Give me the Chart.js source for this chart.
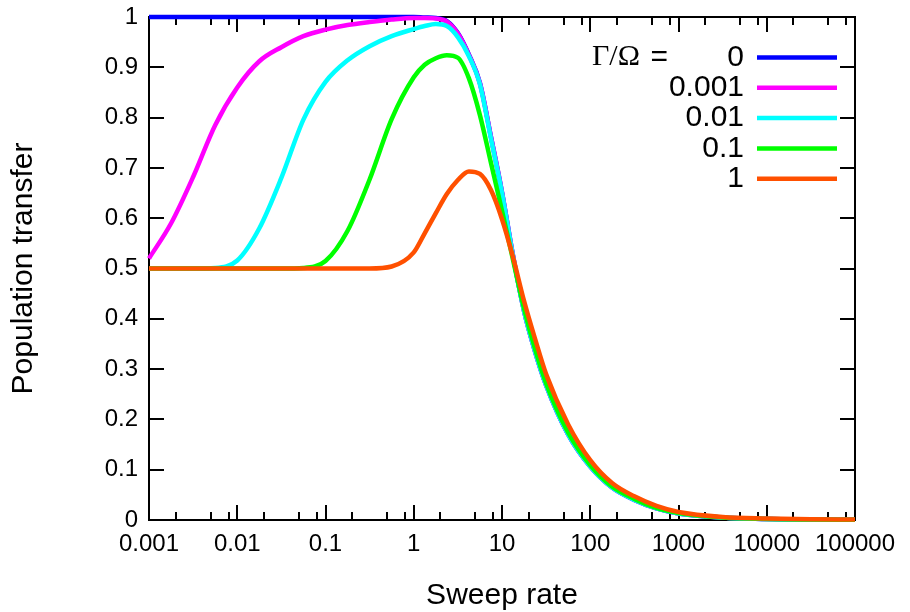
<!DOCTYPE html>
<html>
<head>
<meta charset="utf-8">
<script src="https://cdn.jsdelivr.net/npm/chart.js@4.4.1/dist/chart.umd.min.js"></script>
<style>
html, body { margin: 0; padding: 0; background: #fff; }
#wrap { width: 910px; height: 612px; }
</style>
</head>
<body>
<div id="wrap"><canvas id="c"></canvas></div>
<script>
// sweep rates sampled on the log axis
const sweepRate = [0.001, 0.00178, 0.00316, 0.00562, 0.01, 0.0178, 0.0316, 0.0562, 0.1, 0.178, 0.316, 0.562,
  1, 1.33, 1.78, 2.37, 3.16, 4.22, 5.62, 7.5, 10, 13.3, 17.8, 23.7, 31.6, 56.2, 100, 178, 316, 562,
  1000, 3162, 10000, 31623, 100000];

// population transfer for each Gamma/Omega
const gammaLabels = ['0', '0.001', '0.01', '0.1', '1'];
const transfer0 = [1, 1, 1, 1, 1, 1, 1, 1, 1, 1, 1, 1, 1, 0.999, 0.998, 0.992, 0.968, 0.925, 0.869, 0.762, 0.652,
  0.527, 0.415, 0.335, 0.268, 0.17, 0.106, 0.064, 0.04, 0.023, 0.013, 0.005, 0.002, 0.001, 0.0005];
const transfer0001 = [0.52, 0.59, 0.682, 0.785, 0.86, 0.912, 0.94, 0.962, 0.975, 0.984, 0.99, 0.995, 0.998, 0.998,
  0.997, 0.991, 0.967, 0.924, 0.868, 0.761, 0.651, 0.526, 0.415, 0.335, 0.268, 0.17, 0.106, 0.064, 0.04, 0.023,
  0.013, 0.005, 0.002, 0.001, 0.0005];
const transfer001 = [0.5, 0.5, 0.5, 0.501, 0.516, 0.58, 0.68, 0.796, 0.871, 0.914, 0.942, 0.962, 0.976, 0.982,
  0.986, 0.982, 0.96, 0.922, 0.866, 0.758, 0.65, 0.525, 0.415, 0.335, 0.268, 0.17, 0.106, 0.064, 0.04, 0.023,
  0.013, 0.005, 0.002, 0.001, 0.0005];
const transfer01 = [0.5, 0.5, 0.5, 0.5, 0.5, 0.5, 0.5, 0.501, 0.515, 0.575, 0.677, 0.797, 0.88, 0.905, 0.918,
  0.924, 0.919, 0.878, 0.805, 0.71, 0.615, 0.518, 0.42, 0.34, 0.272, 0.174, 0.109, 0.066, 0.042, 0.024, 0.014,
  0.005, 0.002, 0.001, 0.0005];
const transfer1 = [0.5, 0.5, 0.5, 0.5, 0.5, 0.5, 0.5, 0.5, 0.5, 0.5, 0.5, 0.504, 0.532, 0.57, 0.61, 0.648, 0.676,
  0.693, 0.688, 0.656, 0.598, 0.523, 0.435, 0.36, 0.29, 0.19, 0.119, 0.073, 0.047, 0.028, 0.016, 0.006, 0.003,
  0.0015, 0.001];

const xTickValues = [0.001, 0.01, 0.1, 1, 10, 100, 1000, 10000, 100000];
const xTickLabels = ['0.001', '0.01', '0.1', '1', '10', '100', '1000', '10000', '100000'];

const allSeries = [transfer0, transfer0001, transfer001, transfer01, transfer1];
const colors = ['#0000ff', '#ff00ff', '#00ffff', '#00ff00', '#ff5000'];

Chart.defaults.font.family = '"Liberation Sans", Arial, sans-serif';
Chart.defaults.color = '#000';

// box around the plot with inward ticks, like gnuplot
const framePlugin = {
  id: 'frame',
  beforeDatasetsDraw(chart) {
    const { ctx, chartArea: a, scales: { x, y } } = chart;
    ctx.save();
    ctx.strokeStyle = '#000';
    ctx.lineWidth = 2;
    ctx.strokeRect(a.left, a.top, a.right - a.left, a.bottom - a.top);
    ctx.beginPath();
    y.ticks.forEach(t => {
      const py = Math.round(y.getPixelForValue(t.value));
      ctx.moveTo(a.left, py); ctx.lineTo(a.left + 15, py);
      ctx.moveTo(a.right, py); ctx.lineTo(a.right - 15, py);
    });
    xTickValues.forEach((v, i) => {
      const px = Math.round(x.getPixelForValue(v));
      ctx.moveTo(px, a.bottom); ctx.lineTo(px, a.bottom - 15);
      ctx.moveTo(px, a.top); ctx.lineTo(px, a.top + 15);
      if (i === xTickValues.length - 1) return;
      [2, 5, 8].forEach(m => {
        const pm = Math.round(x.getPixelForValue(v * m));
        ctx.moveTo(pm, a.bottom); ctx.lineTo(pm, a.bottom - 8);
        ctx.moveTo(pm, a.top); ctx.lineTo(pm, a.top + 8);
      });
    });
    ctx.stroke();
    ctx.restore();
  }
};

// key in the top right corner: right aligned labels, sample line after them
const keyPlugin = {
  id: 'key',
  afterDatasetsDraw(chart) {
    const { ctx, chartArea: a } = chart;
    const textX = a.right - 111;
    const y0 = a.top + 40.5;
    const dy = 30.3;
    ctx.save();
    ctx.textBaseline = 'middle';
    ctx.fillStyle = '#000';
    ctx.font = '30px "Liberation Serif"';
    ctx.textAlign = 'left';
    ctx.fillText('Γ/Ω', a.right - 263, y0);
    ctx.font = '30px "Liberation Sans"';
    ctx.textAlign = 'right';
    ctx.fillText('=', a.right - 187, y0);
    chart.data.datasets.forEach((ds, i) => {
      const y = y0 + i * dy;
      ctx.fillStyle = '#000';
      ctx.fillText(ds.label, textX, y);
      ctx.strokeStyle = ds.borderColor;
      ctx.lineWidth = 4.5;
      ctx.beginPath();
      ctx.moveTo(a.right - 98, y);
      ctx.lineTo(a.right - 18, y);
      ctx.stroke();
    });
    ctx.restore();
  }
};

new Chart(document.getElementById('c'), {
  type: 'line',
  data: {
    datasets: allSeries.map((vals, i) => ({
      label: gammaLabels[i],
      data: vals.map((v, j) => ({ x: sweepRate[j], y: v })),
      borderColor: colors[i],
      borderWidth: 4.5,
      pointRadius: 0,
      cubicInterpolationMode: 'monotone',
      fill: false,
      clip: 5,
      order: allSeries.length - i
    }))
  },
  options: {
    responsive: true,
    maintainAspectRatio: false,
    animation: false,
    layout: { padding: { top: 17, right: 55, left: 0, bottom: 0 } },
    plugins: { legend: { display: false }, tooltip: { enabled: false } },
    scales: {
      x: {
        type: 'logarithmic',
        min: 0.001,
        max: 100000,
        grid: { display: false, drawTicks: false },
        border: { display: false },
        afterBuildTicks: s => { s.ticks = xTickValues.map(v => ({ value: v })); },
        afterFit: s => { s.height = 92; s.paddingLeft = 0; s.paddingRight = 0; },
        ticks: {
          autoSkip: false, maxRotation: 0, padding: 10,
          font: { size: 24 },
          callback: (v, i) => xTickLabels[i]
        },
        title: { display: true, text: 'Sweep rate', font: { size: 30, lineHeight: 1 }, padding: { top: 0, bottom: 1 } }
      },
      y: {
        min: 0,
        max: 1,
        grid: { display: false, drawTicks: false },
        border: { display: false },
        afterFit: s => { s.width = 149; s.paddingTop = 0; s.paddingBottom = 0; },
        ticks: {
          stepSize: 0.1, padding: 11,
          font: { size: 24 },
          callback: v => String(parseFloat(v.toFixed(1)))
        },
        title: { display: true, text: 'Population transfer', font: { size: 30, lineHeight: 1 }, padding: { top: 9, bottom: 0 } }
      }
    }
  },
  plugins: [framePlugin, keyPlugin]
});
</script>
</body>
</html>
